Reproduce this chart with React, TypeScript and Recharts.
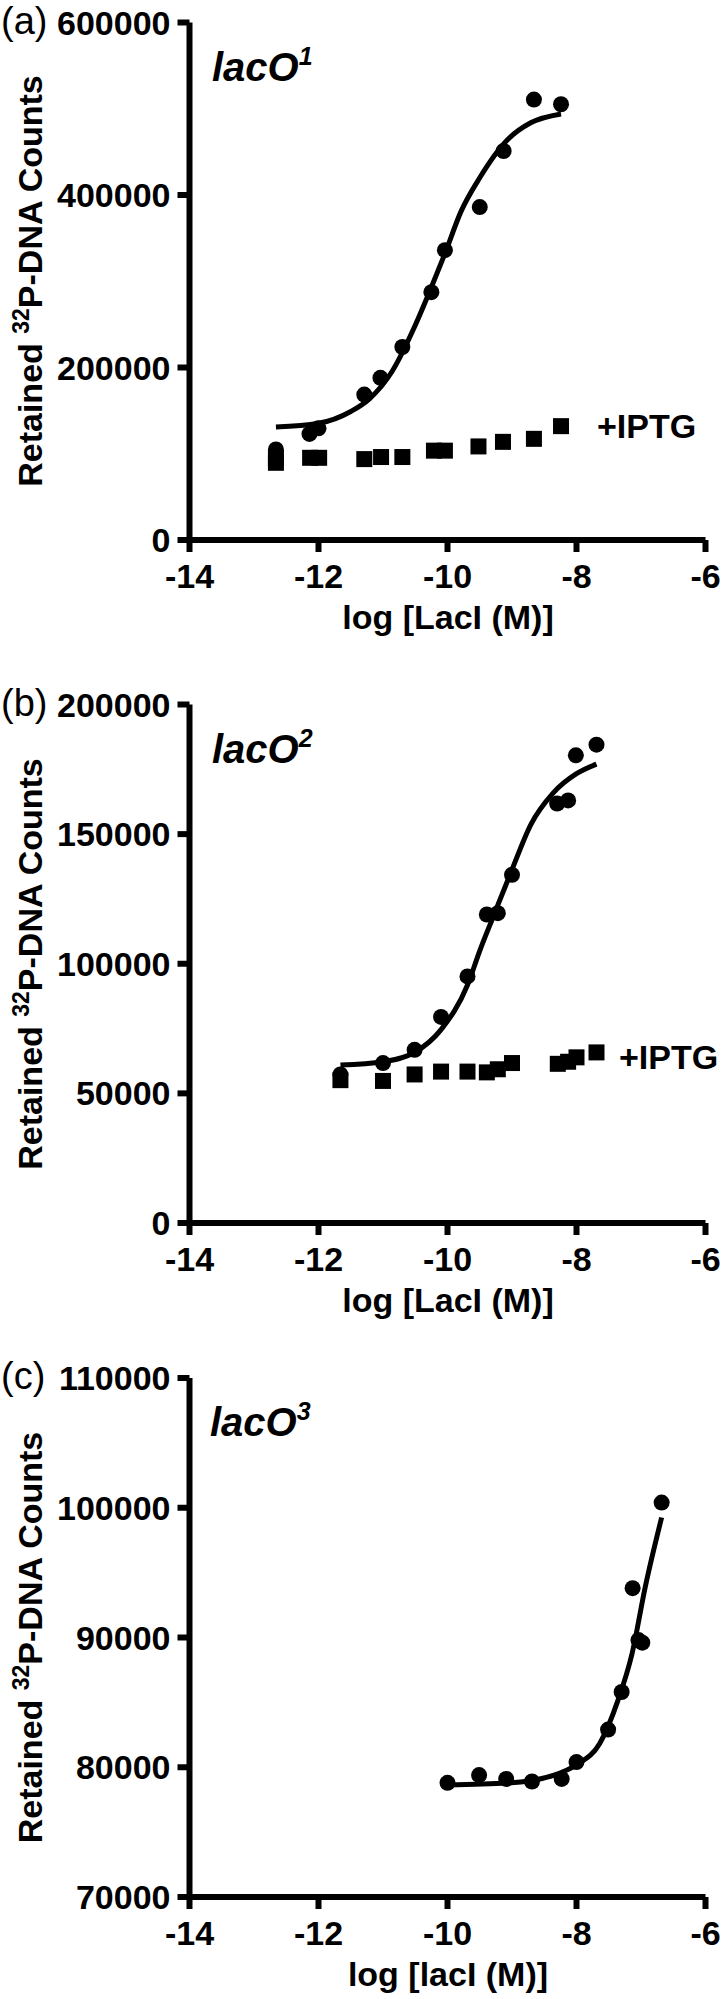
import React from 'react';
import { ComposedChart, Line, Scatter, XAxis, YAxis } from 'recharts';

const FONT = '"Liberation Sans", Arial, Helvetica, sans-serif';

// shared x ticks, log [LacI (M)]
const logTicks = [-14, -12, -10, -8, -6];

// (a) lacO1
const o1Ticks = [0, 200000, 400000, 600000];
const o1LogX = [-12.66, -12.14, -12.0, -11.29, -11.04, -10.7, -10.25, -10.04, -9.5, -9.13, -8.66, -8.24];
const o1Counts = [105000, 123000, 129500, 168600, 188000, 223800, 287300, 336000, 386000, 451000, 510600, 505200];
const o1IptgLogX = [-12.66, -12.66, -12.13, -11.99, -11.29, -11.03, -10.7, -10.21, -10.04, -9.52, -9.14, -8.66, -8.24];
const o1IptgCounts = [95000, 89500, 95300, 95300, 93800, 96200, 96200, 103600, 103600, 108500, 113800, 117300, 132000];
const o1FitLogX = [-12.66, -12.0, -11.5, -11.21, -10.86, -10.5, -10.25, -10.04, -9.79, -9.5, -9.07, -8.71, -8.24];
const o1FitCounts = [131000, 135300, 149000, 163700, 195400, 249000, 293000, 332000, 381000, 420000, 464000, 483700, 494000];

// (b) lacO2
const o2Ticks = [0, 50000, 100000, 150000, 200000];
const o2LogX = [-11.66, -11.0, -10.51, -10.1, -9.69, -9.39, -9.22, -9.0, -8.3, -8.13, -8.01, -7.69];
const o2Counts = [57300, 61700, 66800, 79500, 95100, 119000, 119500, 134300, 161800, 163000, 180400, 184500];
const o2IptgLogX = [-11.66, -11.0, -10.51, -10.1, -9.69, -9.39, -9.22, -9.0, -8.29, -8.13, -8.0, -7.69];
const o2IptgCounts = [55100, 54800, 57300, 58400, 58400, 58100, 59300, 61700, 61400, 62200, 63900, 65800];
const o2FitLogX = [-11.66, -11.0, -10.51, -10.1, -9.69, -9.5, -9.29, -9.0, -8.71, -8.36, -8.0, -7.69];
const o2FitCounts = [60900, 62200, 65800, 74600, 91800, 105000, 118200, 136300, 153600, 165900, 173300, 177000];

// (c) lacO3
const o3Ticks = [70000, 80000, 90000, 100000, 110000];
const o3LogX = [-10.0, -9.51, -9.09, -8.69, -8.23, -8.0, -7.51, -7.3, -7.13, -7.04, -6.98, -6.68];
const o3Counts = [78800, 79400, 79100, 78900, 79100, 80400, 82900, 85800, 93800, 89800, 89600, 100400];
const o3FitLogX = [-10.0, -9.07, -8.36, -8.0, -7.64, -7.36, -7.14, -6.93, -6.68];
const o3FitCounts = [78640, 78780, 79370, 80190, 81830, 85120, 88730, 93990, 99250];

const zip = (xs: number[], ys: number[]) => xs.map((x, i) => ({ x, y: ys[i] }));

const Dot = (p: any) => <circle cx={p.cx} cy={p.cy} r={8} fill="#000" />;
const Square = (p: any) => <rect x={p.cx - 8} y={p.cy - 8} width={16} height={16} fill="#000" />;

const axisStroke = { stroke: '#000', strokeWidth: 6 };
const tickFont = { fontSize: 34, fontWeight: 700, fill: '#000', fontFamily: FONT };

function Panel({ top, height, mTop, mBottom, domain, ticks, circles, squares, fit }: any) {
  return (
    <div style={{ position: 'absolute', left: 0, top, width: 723, height }}>
      <ComposedChart width={723} height={height} margin={{ top: mTop, right: 17.5, bottom: mBottom, left: 0 }}>
        <XAxis
          type="number"
          dataKey="x"
          domain={[-14, -6]}
          ticks={logTicks}
          interval={0}
          height={100}
          tickSize={12}
          tickMargin={12}
          axisLine={axisStroke}
          tickLine={axisStroke}
          tick={tickFont}
          allowDataOverflow
        />
        <YAxis
          type="number"
          dataKey="y"
          domain={domain}
          ticks={ticks}
          interval={0}
          width={189.5}
          tickSize={12}
          tickMargin={7}
          axisLine={axisStroke}
          tickLine={axisStroke}
          tick={tickFont}
          allowDataOverflow
        />
        <Line data={fit} dataKey="y" type="monotone" stroke="#000" strokeWidth={5} dot={false} activeDot={false} isAnimationActive={false} />
        <Scatter data={circles} dataKey="y" shape={Dot} isAnimationActive={false} />
        {squares && <Scatter data={squares} dataKey="y" shape={Square} isAnimationActive={false} />}
      </ComposedChart>
    </div>
  );
}

function YTitle({ y }: { y: number }) {
  return (
    <text x={42} y={y} transform={`rotate(-90 42 ${y})`} textAnchor="middle" fontSize={34} fontWeight={700} fontFamily={FONT}>
      <tspan>Retained </tspan>
      <tspan fontSize={23} dy={-13}>32</tspan>
      <tspan dy={13}>P-DNA Counts</tspan>
    </text>
  );
}

function Heading({ tag, tagY, sup, titleX, titleY, xLabel, labelY, titleMid }: any) {
  return (
    <g fontFamily={FONT} fill="#000">
      <text x={1} y={tagY} fontSize={38}>{tag}</text>
      <text x={titleX} y={titleY} fontSize={40} fontWeight={700} fontStyle="italic">
        lacO<tspan fontSize={25} dy={-16}>{sup}</tspan>
      </text>
      <text x={448} y={labelY} textAnchor="middle" fontSize={34} fontWeight={700}>{xLabel}</text>
      <YTitle y={titleMid} />
    </g>
  );
}

export default function App() {
  return (
    <div style={{ position: 'absolute', left: 0, top: 0, width: 723, height: 1999, background: '#fff' }}>
      <Panel top={0} height={680} mTop={22.5} mBottom={40} domain={[0, 600000]} ticks={o1Ticks}
        circles={zip(o1LogX, o1Counts)} squares={zip(o1IptgLogX, o1IptgCounts)} fit={zip(o1FitLogX, o1FitCounts)} />
      <Panel top={680} height={680} mTop={24.5} mBottom={37} domain={[0, 200000]} ticks={o2Ticks}
        circles={zip(o2LogX, o2Counts)} squares={zip(o2IptgLogX, o2IptgCounts)} fit={zip(o2FitLogX, o2FitCounts)} />
      <Panel top={1360} height={639} mTop={18} mBottom={2} domain={[70000, 110000]} ticks={o3Ticks}
        circles={zip(o3LogX, o3Counts)} fit={zip(o3FitLogX, o3FitCounts)} />
      <svg width={723} height={1999} style={{ position: 'absolute', left: 0, top: 0, pointerEvents: 'none' }}>
        <Heading tag="(a)" tagY={34} sup="1" titleX={212} titleY={81} xLabel="log [LacI (M)]" labelY={629} titleMid={281} />
        <Heading tag="(b)" tagY={716} sup="2" titleX={212} titleY={763} xLabel="log [LacI (M)]" labelY={1312} titleMid={964} />
        <Heading tag="(c)" tagY={1389} sup="3" titleX={210} titleY={1436} xLabel="log [lacI (M)]" labelY={1986} titleMid={1637.5} />
        <g fontFamily={FONT} fontSize={34} fontWeight={700}>
          <text x={597} y={438}>+IPTG</text>
          <text x={619} y={1069}>+IPTG</text>
        </g>
      </svg>
    </div>
  );
}
